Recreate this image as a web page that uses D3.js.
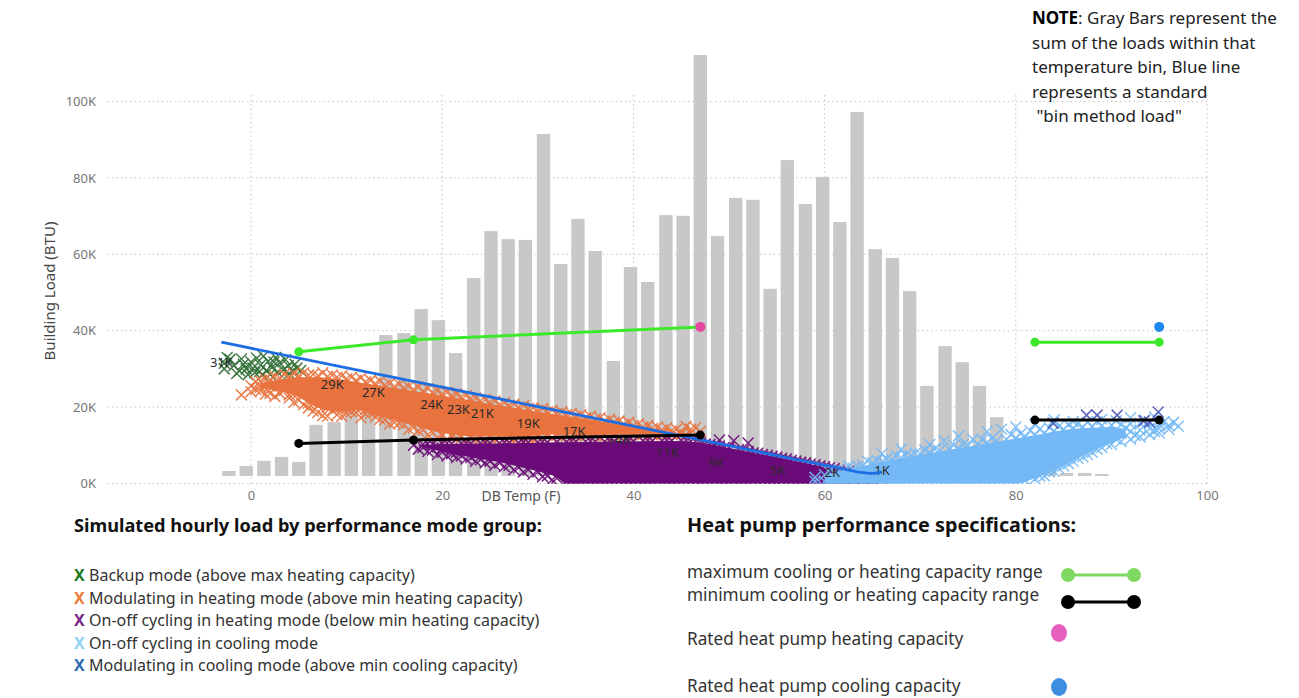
<!DOCTYPE html>
<meta charset="utf-8">
<body style="margin:0;background:#fff">
<style>
  text { font-family: "Noto Sans", "Open Sans", sans-serif; }
  .tick text { font-size: 13px; fill: #777; }
  .grid { stroke: #c6c6c6; stroke-width: 1; stroke-dasharray: 1.5,3; }
  .dlabel { font-size: 13px; fill: #2a2a2a; text-anchor: middle; }
  .legtitle { font-size: 18.2px; font-weight: bold; fill: #111; }
  .legtitle2 { font-size: 19.8px; font-weight: bold; fill: #111; }
  .legitem { font-size: 16px; fill: #333; }
  .legitem2 { font-size: 17.2px; fill: #333; }
  .note { font-size: 17px; fill: #222; }
</style>
<svg width="1299" height="698"></svg>
<script src="https://d3js.org/d3.v7.min.js"></script>
<script>

// Gray bars: sum of loads in each temperature bin (bin centre temp, load in K)
var barTemp = [-2.3,-0.5,1.35,3.2,5.0,6.8,8.7,10.5,12.3,14.1,16.0,17.8,19.6,21.4,23.3,25.1,26.9,28.7,30.6,32.4,34.2,36.0,37.9,39.7,41.5,43.4,45.2,47.0,48.8,50.7,52.5,54.3,56.1,58.0,59.8,61.6,63.4,65.3,67.1,68.9,70.7,72.6,74.4,76.2,78.0,79.9,81.7,83.5,85.3,87.2,89.0];
var barLoad = [1.3,2.6,4.0,5.0,3.7,13.4,14.1,17,19,36.9,37.4,43.7,40.8,32.2,51.8,64.1,62.0,61.8,89.5,55.5,67.3,58.9,30.1,54.7,50.8,68.3,68.1,110.2,62.8,72.8,72.3,49.0,82.7,71.2,78.3,66.5,95.3,59.4,57.1,48.4,23.6,34.0,29.8,23.6,15.4,8,5,3,0.8,0.8,0.5];

// Blue "bin method" load line
var binT = [-3.1, 10, 20, 30, 40, 50, 55, 60, 62, 63.5, 65, 66];
var binLoad = [37.0, 30.3, 25.2, 20.1, 15.0, 9.9, 7.3, 4.8, 3.8, 3.0, 2.6, 3.0];

// data labels along the bin line
var labT = [-3.1, 8.5, 12.8, 18.9, 21.7, 24.2, 29.0, 33.8, 38.5, 43.6, 48.7, 55.1, 60.8, 66.0];
var labLoad = [31.8, 26.0, 23.9, 20.8, 19.5, 18.2, 15.8, 13.5, 11.4, 8.2, 5.6, 3.5, 3.0, 3.5];
var labText = ["31K","29K","27K","24K","23K","21K","19K","17K","14K","11K","9K","5K","2K","1K"];

// heat pump capacities
var heatMaxT = [5, 17, 47], heatMaxLoad = [34.5, 37.6, 41.0];
var heatMinT = [5, 17, 47], heatMinLoad = [10.5, 11.4, 12.7];
var coolMaxT = [82, 95], coolMaxLoad = [37.0, 37.0];
var coolMinT = [82, 95], coolMinLoad = [16.6, 16.6];
var ratedHeat = [47, 41.0];
var ratedCool = [95, 41.0];

// simulated hourly loads, [temp, [loads in K]]
var backupPts = [[-2.8,[31.5,30.0]],[-2.5,[33.0]],[-2.2,[32.5]],[-1.8,[30.8]],[-1.5,[28.8]],[-1.2,[29.5]],[-1.0,[32.6]],[-0.8,[31.2]],[-0.5,[30.0]],[-0.3,[28.5]],[0.0,[31.8]],[0.2,[30.2]],[0.4,[29.0]],[0.6,[32.8]],[0.9,[29.3]],[1.0,[31.0]],[1.2,[28.4]],[1.3,[33.3]],[1.6,[29.6]],[1.8,[32.0]],[2.0,[28.6]],[2.2,[30.4]],[2.4,[31.8]],[2.6,[33.0]],[2.8,[29.2]],[3.0,[31.6]],[3.4,[29.8]],[3.6,[32.4]],[3.9,[30.9]],[4.0,[28.8]],[4.3,[29.4]],[4.6,[31.2]],[4.8,[30.2]],[5.2,[29.6]]];

var heatModPts = [[-1,[23.2]],[0,[25.6,24.0]],[0.5,[26.6,24.6]],[1,[26.8,25.2,24.2]],[1.5,[27.4,23.4]],[2,[27.2,25.5,23.6]],[2.5,[28.0,22.8]],[3,[27.6,25.8,23.6]],[3.5,[28.6,24.4]],[4,[27.9,25.6,23.2,22.4]],[4.5,[28.8,21.2]],[5,[28.2,26.0,23.8,21.8]],[5.5,[29.0,20.6]],[6,[28.4,25.9,23.5,21.0,19.8]],[6.5,[28.6,19.0]],[7,[28.2,25.6,23.0,20.4,18.6]],[7.5,[29.0,17.8]],[8,[28.0,25.4,22.6,20.0,17.6]],[8.5,[28.4,19.2]],[9,[27.8,25.0,22.4,19.8,18.0]],[9.5,[28.2,17.6]],[10,[27.4,24.8,22.2,19.6,18.4]],[10.5,[27.8,18.8]],[11,[27.0,24.6,22.0,19.6,18.6]],[11.5,[27.6,17.2]],[12,[26.6,24.2,21.8,19.4,18.2]],[12.5,[27.0,18.4]],[13,[26.2,23.8,21.4,18.8,17.4]],[13.5,[26.8,16.8]],[14,[25.8,23.4,21.0,18.4,16.6]],[14.5,[26.2,15.6]],[15,[25.4,23.0,20.6,18.0,16.0]],[15.5,[26.0,15.8]],[16,[25.0,22.6,20.2,17.6,15.4]],[16.5,[25.4,14.2]],[17,[24.6,22.2,19.8,17.2,14.6]],[17.5,[25.2,13.8]],[18,[24.2,21.8,19.2,16.6,14.0]],[18.5,[24.8,12.8]],[19,[23.8,21.4,18.8,16.0,13.2]],[19.5,[24.2,12.0]],[20,[23.4,21.0,18.4,15.6,12.6]],[20.5,[23.8,11.6]],[21,[23.0,20.6,18.0,15.2,12.4]],[21.5,[23.4,11.8]],[22,[22.6,20.2,17.6,14.8,12.2]],[22.5,[23.0,11.2]],[23,[22.2,19.8,17.2,14.4,12.0]],[23.5,[22.4,11.6]],[24,[21.6,19.4,16.8,14.2,11.8]],[24.5,[22.0,11.4]],[25,[21.2,19.0,16.4,14.0,12.0]],[25.5,[21.6,11.6]],[26,[20.8,18.6,16.2,13.8,12.2]],[26.5,[21.2,11.8]],[27,[20.4,18.2,15.8,13.6,12.0]],[27.5,[20.8,11.4]],[28,[20.0,17.8,15.6,13.4,12.2]],[28.5,[20.4,11.8]],[29,[19.6,17.4,15.4,13.2,12.0]],[29.5,[19.8,11.6]],[30,[19.2,17.0,15.0,13.0,12.2]],[30.5,[19.6,12.0]],[31,[18.8,16.8,14.8,12.8]],[31.5,[19.2,12.0]],[32,[18.4,16.4,14.6,12.6]],[32.5,[18.8,12.2]],[33,[18.0,16.2,14.4,12.6]],[33.5,[18.4,12.0]],[34,[17.6,15.8,14.2,12.6]],[34.5,[18.0,12.2]],[35,[17.2,15.6,14.0,12.6]],[35.5,[17.6,12.2]],[36,[16.8,15.2,13.8,12.6]],[36.5,[17.2,12.0]],[37,[16.4,15.0,13.6,12.6]],[37.5,[16.8,12.2]],[38,[16.0,14.6,13.4,12.6]],[38.5,[16.4,12.4]],[39,[15.6,14.4,13.2]],[39.5,[16.0,12.2]],[40,[15.2,14.0,13.0]],[40.5,[15.6,12.4]],[41,[14.8,13.8,12.8]],[41.5,[15.2,12.4]],[42,[14.4,13.4,12.8]],[42.5,[14.8,12.4]],[43,[14.0,13.2,12.8]],[43.5,[14.6,12.6]],[44,[13.8,13.0]],[44.5,[14.2,12.6]],[45,[13.4,12.9]],[45.5,[15.0,12.6]],[46,[14.2,13.2]],[46.5,[14.6]],[47,[13.6]]];

var heatCycPts = [[17,[10.0]],[17.5,[9.0]],[18,[10.2,9.4]],[18.5,[10.4,8.4]],[19,[10.3,8.8]],[19.5,[9.6,7.6]],[20,[10.4,9.2,8.2]],[20.5,[10.6,7.2]],[21,[10.4,9.0,7.8]],[21.5,[8.2,6.8]],[22,[10.5,8.8,7.2]],[22.5,[10.6,6.4]],[23,[10.5,8.6,6.8]],[23.5,[7.6,5.8]],[24,[10.6,8.4,6.2]],[24.5,[10.8,5.4]],[25,[10.6,8.2,5.8]],[25.5,[7.0,4.8]],[26,[10.6,8.0,5.4]],[26.5,[10.8,4.4]],[27,[10.7,7.8,4.8]],[27.5,[6.4,3.6]],[28,[10.7,7.4,4.2]],[28.5,[10.9,3.0]],[29,[10.8,7.2,3.6]],[29.5,[6.0,2.4]],[30,[10.8,7.0,3.0]],[30.5,[11.0,1.8]],[31,[10.8,6.4,2.0]],[31.5,[5.6,1.0]],[32,[10.9,6.0,1.4]],[33,[10.9,5.6,0.6]],[33.5,[11.2]],[34,[11.0,5.8,0.6]],[35,[11.0,5.8,0.6]],[35.5,[11.2]],[36,[11.0,5.8,0.6]],[37,[11.0,5.8,0.6]],[37.5,[11.3]],[38,[11.1,5.8,0.6]],[39,[11.1,5.8,0.6]],[39.5,[11.3]],[40,[11.1,5.8,0.6]],[41,[11.2,5.8,0.6]],[41.5,[11.4]],[42,[11.2,5.8,0.6]],[43,[11.2,5.8,0.6]],[43.5,[11.4]],[44,[11.2,5.8,0.6]],[45,[11.3,5.6,0.6]],[45.5,[11.4]],[46,[11.0,5.4,0.6]],[46.5,[11.0]],[47,[10.6,5.2,0.6]],[47.5,[10.3]],[48,[10.2,5.0,0.6]],[48.5,[9.9]],[49,[9.8,4.8,0.6,11.4]],[49.5,[9.4]],[50,[9.4,4.6,0.6]],[50.5,[11.2]],[51,[8.9,4.4,0.6]],[51.5,[8.6]],[52,[8.4,4.2,0.6,10.6]],[52.5,[8.0]],[53,[7.9,4.0,0.6]],[53.5,[7.6]],[54,[7.4,3.8,0.6]],[54.5,[7.1]],[55,[6.9,3.6,0.6]],[55.5,[6.6]],[56,[6.4,3.4,0.6]],[56.5,[6.1]],[57,[5.9,3.0,0.6]],[57.5,[5.6]],[58,[5.4,2.8,0.6]],[58.5,[5.1]],[59,[4.9,2.6,0.6]],[59.5,[4.6]],[60,[4.4,2.4,0.6]],[60.5,[4.1]],[61,[3.9,2.0,0.6]],[61.5,[3.6]],[62,[3.4,1.8,0.6]],[62.5,[3.2]],[63,[3.0,1.4,0.6]],[63.5,[2.8]],[64,[2.6,1.0]],[64.5,[2.3]],[65,[2.0,0.8]],[65.5,[1.6]],[66,[1.4]]];

var coolCycPts = [[59,[1.6,0.6]],[60,[2.3,0.6]],[60.5,[3.0]],[61,[2.8,1.4,0.6]],[61.5,[3.6]],[62,[3.3,1.8,0.6]],[62.5,[4.6]],[63,[4.0,2.2,0.6]],[63.5,[4.4]],[64,[4.8,2.6,0.6]],[64.5,[5.8]],[65,[5.4,3.0,0.6]],[65.5,[6.0]],[66,[5.8,3.2,0.6,7.8]],[66.5,[6.4]],[67,[6.3,3.4,0.6]],[67.5,[7.2]],[68,[6.8,3.6,0.6,9.0]],[68.5,[7.4]],[69,[7.3,3.8,0.6]],[69.5,[8.0]],[70,[7.8,4.2,0.6]],[70.5,[8.8]],[71,[8.2,4.4,0.6,10.2]],[71.5,[9.0]],[72,[8.6,4.6,0.6]],[72.5,[11.2]],[73,[9.0,4.8,0.6]],[73.5,[10.0]],[74,[9.3,5.0,0.6,12.4]],[74.5,[10.2]],[75,[9.8,5.2,0.6]],[75.5,[11.6]],[76,[10.3,5.4,0.6]],[76.5,[11.4]],[77,[10.8,5.6,0.6,13.6]],[77.5,[11.8]],[78,[11.2,5.8,0.6]],[78.5,[14.2]],[79,[11.6,6.0,0.6]],[79.5,[12.8]],[80,[12.0,6.2,0.6,14.8]],[80.5,[13.0]],[81,[12.3,6.6,0.8]],[81.5,[13.8]],[82,[12.8,7.0,1.2,15.6]],[82.5,[14.2,2.0]],[83,[13.2,7.6,2.0]],[83.5,[14.6,3.0]],[84,[13.8,8.4,3.2,16.6]],[84.5,[15.0,4.0]],[85,[14.2,9.2,4.6]],[85.5,[15.4,5.2]],[86,[14.5,10.0,5.8,16.2]],[86.5,[15.6,6.6]],[87,[14.8,10.8,7.0]],[87.5,[16.0,7.6]],[88,[15.0,11.6,8.2]],[88.5,[16.2,9.0]],[89,[15.2,12.2,9.4,16.8]],[89.5,[14.0,10.4]],[90,[15.3,12.6,10.2]],[90.5,[16.4,11.6]],[91,[15.4,13.2,11.0]],[91.5,[14.6]],[92,[15.6,13.6,11.6,17.2]],[92.5,[12.6]],[93,[15.8,14.0,12.2]],[93.5,[16.6]],[94,[15.8,14.4,12.8]],[94.5,[17.4,13.6]],[95,[15.6,14.4,13.2]],[95.5,[16.2]],[96,[15.2,14.2]],[96.5,[16.0]],[97,[15.0]]];

var coolModPts = [[83.9,[15.8]],[87.4,[17.9]],[88.5,[17.9]],[90.6,[17.9]],[93.4,[16.4]],[94,[16.1]],[94.9,[18.7]]];

// dense core of each cloud: [temp, low, high]
var heatModCore = [[1,24.8,26.2],[3,24.2,27.2],[5,22.6,27.8],[7,19.8,27.8],[9,18.8,27.4],[11,19.2,26.6],[13,18.0,25.8],[15,16.6,25.0],[17,15.2,24.2],[19,13.8,23.4],[21,12.8,22.6],[23,12.4,21.8],[25,12.4,20.8],[27,12.4,20.0],[29,12.4,19.2],[31,12.8,18.4],[33,12.8,17.6],[35,12.8,16.8],[37,12.8,16.0],[39,13.0,15.2],[41,13.0,14.4],[43,13.0,13.6],[44.5,13.0,13.4]];
var heatCycCore = [[17.5,9.8,10.0],[20,8.4,10.3],[22,7.4,10.4],[24,6.4,10.5],[26,5.6,10.5],[28,4.4,10.6],[30,3.2,10.7],[32,1.6,10.8],[33,0,10.8],[44,0,11.1],[46,0,10.9],[50,0,9.3],[54,0,7.3],[58,0,5.3],[62,0,3.3],[64,0,2.5],[65.5,0,1.4]];
var coolCycCore = [[60,0,2.2],[64,0,4.6],[68,0,6.6],[72,0,8.4],[76,0,10.1],[80,0,11.8],[82,1.4,12.6],[84,3.4,13.6],[86,6.0,14.3],[88,8.6,14.6],[90,10.6,14.8],[91.5,12.2,14.2]];

var groups = [
  {name: "Backup mode (above max heating capacity)", color: "#2f6e34", legend: "#1f7a22", pts: backupPts, core: null},
  {name: "Modulating in heating mode (above min heating capacity)", color: "#e9733f", legend: "#ee7d3b", pts: heatModPts, core: heatModCore},
  {name: "On-off cycling in heating mode (below min heating capacity)", color: "#6b0b79", legend: "#7b2a8a", pts: heatCycPts, core: heatCycCore},
  {name: "On-off cycling in cooling mode", color: "#74b9f6", legend: "#8fd3f5", pts: coolCycPts, core: coolCycCore},
  {name: "Modulating in cooling mode (above min cooling capacity)", color: "#4b55b3", legend: "#2f6db5", pts: coolModPts, core: null}
];

var specNames = ["maximum cooling or heating capacity range", "minimum cooling or heating capacity range", "Rated heat pump heating capacity", "Rated heat pump cooling capacity"];

var svg = d3.select("svg");

var x = d3.scaleLinear().domain([-15, 100]).range([107.6, 1207]);
var y = d3.scaleLinear().domain([0, 100]).range([483.5, 101.5]);
var yBar = d3.scaleLinear().domain([0, 100]).range([476, 94]);

svg.append("defs").append("clipPath").attr("id", "plot")
  .append("rect").attr("x", x(-15)).attr("y", 0).attr("width", x(100) - x(-15)).attr("height", y(0) + 0.5);

// grid
var yTicks = [0, 20, 40, 60, 80, 100];
var xTicks = [0, 20, 40, 60, 80, 100];
svg.append("g").selectAll("line").data(yTicks).enter().append("line")
  .attr("class", "grid")
  .attr("x1", x(-15)).attr("x2", x(100))
  .attr("y1", function(d) { return y(d); }).attr("y2", function(d) { return y(d); });
svg.append("g").selectAll("line").data(xTicks).enter().append("line")
  .attr("class", "grid")
  .attr("x1", function(d) { return x(d); }).attr("x2", function(d) { return x(d); })
  .attr("y1", y(0)).attr("y2", y(101.7));

// axes
var gy = svg.append("g").attr("transform", "translate(99,0)")
  .call(d3.axisLeft(y).tickValues(yTicks).tickSize(0).tickPadding(3).tickFormat(function(d) { return d + "K"; }));
gy.select(".domain").remove();
var gx = svg.append("g").attr("transform", "translate(0," + y(0) + ")")
  .call(d3.axisBottom(x).tickValues(xTicks).tickSize(0).tickPadding(7));
gx.select(".domain").remove();
svg.selectAll(".tick text").attr("font-family", null);

svg.append("text").attr("transform", "translate(55,291) rotate(-90)")
  .attr("text-anchor", "middle").style("font-size", "15px").style("fill", "#444")
  .text("Building Load (BTU)");
svg.append("text").attr("x", 521).attr("y", 501)
  .attr("text-anchor", "middle").style("font-size", "14px").style("fill", "#555")
  .text("DB Temp (F)");

// bars
svg.append("g").selectAll("rect").data(barTemp).enter().append("rect")
  .attr("x", function(d) { return x(d - 0.7); })
  .attr("width", function(d) { return x(d + 0.7) - x(d - 0.7); })
  .attr("y", function(d, i) { return yBar(barLoad[i]); })
  .attr("height", function(d, i) { return yBar(0) - yBar(barLoad[i]); })
  .attr("fill", "#c8c8c8");

// scatter clouds
var cross = "M-5.5,-5.5L5.5,5.5M-5.5,5.5L5.5,-5.5";
var scat = svg.append("g").attr("clip-path", "url(#plot)");
var area = d3.area()
  .x(function(d) { return x(d[0]); })
  .y0(function(d) { return y(d[1]); })
  .y1(function(d) { return y(d[2]); })
  .curve(d3.curveMonotoneX);
groups.forEach(function(g) {
  var flat = [];
  g.pts.forEach(function(c) { c[1].forEach(function(v) { flat.push([c[0], v]); }); });
  if (g.core) {
    scat.append("path").datum(g.core).attr("d", area).attr("fill", g.color);
  }
  scat.append("g").selectAll("path").data(flat).enter().append("path")
    .attr("d", cross)
    .attr("transform", function(d) { return "translate(" + x(d[0]) + "," + y(d[1]) + ")"; })
    .attr("fill", "none").attr("stroke", g.color).attr("stroke-width", 1.5)
    .attr("stroke-opacity", 0.9);
});

// data labels
svg.append("g").selectAll("text").data(labT).enter().append("text")
  .attr("class", "dlabel")
  .attr("x", function(d) { return x(d); })
  .attr("y", function(d, i) { return y(labLoad[i]) + 4.5; })
  .text(function(d, i) { return labText[i]; });

// bin method line
var line = d3.line().x(function(d) { return x(d[0]); }).y(function(d) { return y(d[1]); });
svg.append("path").datum(d3.zip(binT, binLoad)).attr("d", line)
  .attr("fill", "none").attr("stroke", "#1d6ee3").attr("stroke-width", 2.8);

// capacity lines
function capLine(ts, ls, color) {
  var pts = d3.zip(ts, ls);
  svg.append("path").datum(pts).attr("d", line)
    .attr("fill", "none").attr("stroke", color).attr("stroke-width", 3);
  svg.append("g").selectAll("circle").data(pts).enter().append("circle")
    .attr("cx", function(d) { return x(d[0]); }).attr("cy", function(d) { return y(d[1]); })
    .attr("r", 4.5).attr("fill", color);
}
capLine(heatMaxT, heatMaxLoad, "#3ce82a");
capLine(heatMinT, heatMinLoad, "#000");
capLine(coolMaxT, coolMaxLoad, "#3ce82a");
capLine(coolMinT, coolMinLoad, "#000");
svg.append("circle").attr("cx", x(ratedHeat[0])).attr("cy", y(ratedHeat[1])).attr("r", 5).attr("fill", "#e6479f");
svg.append("circle").attr("cx", x(ratedCool[0])).attr("cy", y(ratedCool[1])).attr("r", 5).attr("fill", "#1e88ee");

// note
var noteLines = [["NOTE", ": Gray Bars represent the"], ["", "sum of the loads within that"], ["", "temperature bin, Blue line"], ["", "represents a standard"], ["", " \"bin method load\""]];
noteLines.forEach(function(l, i) {
  var t = svg.append("text").attr("class", "note").attr("x", 1032).attr("y", 24 + i * 24.5).attr("xml:space", "preserve");
  if (l[0]) t.append("tspan").style("font-weight", "bold").style("fill", "#000").text(l[0]);
  t.append("tspan").text(l[1]);
});

// legend: hourly load groups
svg.append("text").attr("class", "legtitle").attr("x", 74).attr("y", 532)
  .text("Simulated hourly load by performance mode group:");
var lg = svg.append("g").selectAll("g").data(groups).enter().append("g")
  .attr("transform", function(d, i) { return "translate(74," + (581 + i * 22.6) + ")"; });
lg.append("text").attr("class", "legitem").style("font-weight", "bold")
  .style("fill", function(d) { return d.legend; }).text("X");
lg.append("text").attr("class", "legitem").attr("x", 15).text(function(d) { return d.name; });

// legend: specifications
svg.append("text").attr("class", "legtitle2").attr("x", 687).attr("y", 532)
  .text("Heat pump performance specifications:");
var specY = [578, 601, 645, 692];
svg.append("g").selectAll("text").data(specNames).enter().append("text")
  .attr("class", "legitem2").attr("x", 687)
  .attr("y", function(d, i) { return specY[i]; })
  .text(function(d) { return d; });
[["#7fd860", 575], ["#000", 602]].forEach(function(s) {
  svg.append("line").attr("x1", 1068).attr("x2", 1134).attr("y1", s[1]).attr("y2", s[1])
    .attr("stroke", s[0]).attr("stroke-width", 3);
  svg.append("circle").attr("cx", 1068).attr("cy", s[1]).attr("r", 7).attr("fill", s[0]);
  svg.append("circle").attr("cx", 1134).attr("cy", s[1]).attr("r", 7).attr("fill", s[0]);
});
svg.append("ellipse").attr("cx", 1059).attr("cy", 633).attr("rx", 8).attr("ry", 9).attr("fill", "#e55fbf");
svg.append("ellipse").attr("cx", 1059).attr("cy", 687).attr("rx", 8).attr("ry", 9).attr("fill", "#3d8de0");

</script>
</body>
